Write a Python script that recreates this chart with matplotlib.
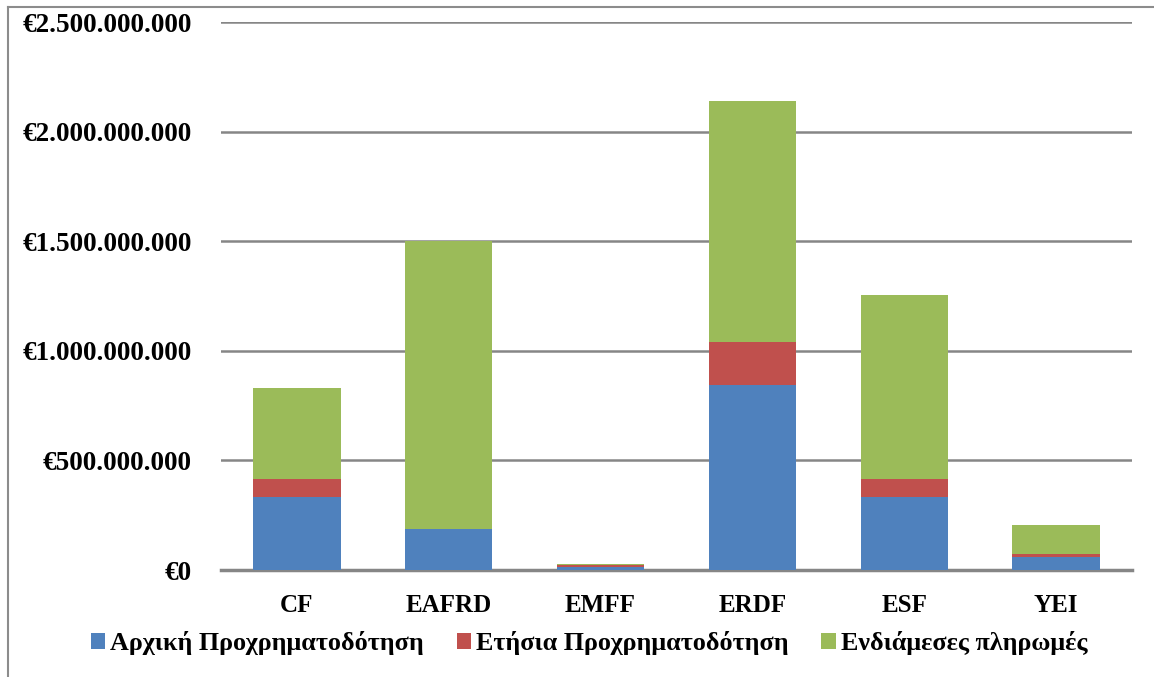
import matplotlib
matplotlib.use("Agg")
import matplotlib.pyplot as plt
import numpy as np
from matplotlib.ticker import FuncFormatter, MultipleLocator
from matplotlib.lines import Line2D

categories = ["CF", "EAFRD", "EMFF", "ERDF", "ESF", "YEI"]
initial = [334e6, 188e6, 13e6, 843e6, 332e6, 61e6]
annual = [80e6, 0.0, 9e6, 199e6, 85e6, 11e6]
interim = [416e6, 1312e6, 4e6, 1098e6, 838e6, 133e6]
series_names = ["Αρχική Προχρηματοδότηση", "Ετήσια Προχρηματοδότηση", "Ενδιάμεσες πληρωμές"]
colors = ["#4F81BD", "#C0504D", "#9BBB59"]

plt.rcParams['font.family'] = ['Liberation Serif', 'DejaVu Serif']
plt.rcParams['font.weight'] = 'bold'

fig = plt.figure(figsize=(11.54, 6.77), dpi=100)
ax = fig.add_axes([221/1154, 1-570/677, (1132-221)/1154, (570-22)/677])

x = np.arange(len(categories))
w = 0.575
bottom = np.zeros(len(categories))
handles = []
for vals, name, c in zip([initial, annual, interim], series_names, colors):
    v = np.array(vals)
    b = ax.bar(x, v, w, bottom=bottom, color=c, label=name, zorder=3)
    bottom += v
    handles.append(b)

ax.set_xlim(-0.5, len(categories) - 0.5)
ax.set_ylim(0, 2.5e9)
ax.yaxis.set_major_locator(MultipleLocator(0.5e9))

def fmt(v, pos):
    s = f"{int(round(v)):,}".replace(",", ".")
    return "€" + s
ax.yaxis.set_major_formatter(FuncFormatter(fmt))
ax.grid(axis='y', color='#868686', linewidth=1.8, zorder=0)
for s in ['left', 'right', 'top']:
    ax.spines[s].set_visible(False)
ax.spines['bottom'].set_color('#868686')
ax.spines['bottom'].set_linewidth(2.5)
ax.tick_params(axis='both', length=0)
ax.tick_params(axis='y', pad=21, labelsize=19.6)
ax.tick_params(axis='x', pad=17, labelsize=18)
ax.set_xticks(x)
ax.set_xticklabels(categories, fontweight='bold')
for lab in ax.get_yticklabels():
    lab.set_fontweight('bold')

leg = fig.legend(handles=handles, labels=series_names, loc='center', bbox_to_anchor=(589/1154, 1-643/677),
                 ncol=3, frameon=False, handlelength=0.55, handleheight=0.55,
                 handletextpad=0.2, columnspacing=1.25, prop={'weight': 'bold', 'size': 18.8})

# outer border
fig.add_artist(Line2D([8/1154, 8/1154], [0, 1-7/677], color='#8c8c8c', linewidth=1.5, transform=fig.transFigure))
fig.add_artist(Line2D([8/1154, 1], [1-7/677, 1-7/677], color='#8c8c8c', linewidth=1.5, transform=fig.transFigure))

fig.savefig("out.png", dpi=100)
